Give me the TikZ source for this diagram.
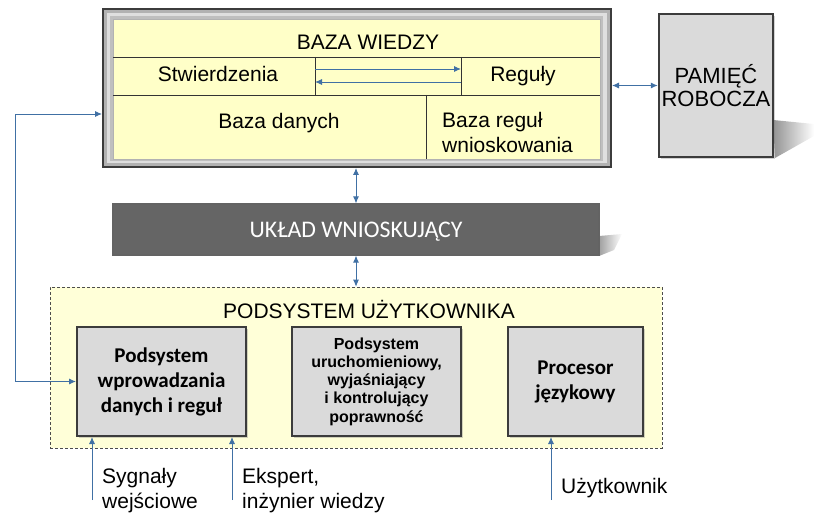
\documentclass[tikz,border=0pt]{standalone}
\usepackage{fontspec}
\setmainfont{Liberation Sans}
\newfontfamily\calibri{Carlito}
\usetikzlibrary{arrows.meta,shadows}

\definecolor{wiedza}{HTML}{FFFFC8}
\definecolor{podsys}{HTML}{FFFFD8}
\definecolor{ramka}{HTML}{3C3C3C}
\definecolor{szary}{HTML}{DADADA}
\definecolor{ciemny}{HTML}{656565}
\definecolor{strzalka}{HTML}{4070A4}

\tikzset{
  graybox/.style={draw=ramka, line width=2pt, fill=szary, inner sep=0pt, align=center,
    drop shadow={shadow xshift=2pt, shadow yshift=-2pt, opacity=.35}},
  link/.style={draw=strzalka, line width=0.9pt, -{Latex[length=7pt,width=6pt]}},
  dlink/.style={link, {Latex[length=7pt,width=6pt]}-{Latex[length=7pt,width=6pt]}},
  txt/.style={font=\fontsize{21}{25}\selectfont, inner sep=0pt},
}

\begin{document}
\begin{tikzpicture}[x=1pt,y=-1pt]
\useasboundingbox (0,0) rectangle (814,513);

% baza wiedzy
\node[draw=ramka, line width=2pt, fill=gray!60, minimum width=508, minimum height=158, inner sep=0pt] (baza) at (357,88) {};
\fill[gray!25] (107,13) rectangle (607,163);
\fill[gray!50] (110,16) rectangle (603,161);
\node[draw=gray!60, fill=wiedza, minimum width=487, minimum height=140, inner sep=0pt] (wnetrze) at (356.5,89) {};
\draw[gray!40!black, line width=0.8pt] (113,57) -- (600,57) (113,95) -- (600,95)
  (315,57) -- (315,95) (461,57) -- (461,95) (426,95) -- (426,159);
\node[txt, anchor=base] (tytul) at (368,50) {BAZA WIEDZY};
\node[txt, anchor=base] (stw) at (218,82) {Stwierdzenia};
\node[txt, anchor=base] (reg) at (523,82) {Reguły};
\node[txt, anchor=base] (bdan) at (279,129) {Baza danych};
\node[txt, anchor=base west, align=left] (breg) at (442,153) {Baza reguł\\wnioskowania};
\coordinate (s1) at (315,69); \coordinate (r1) at (461,69);
\coordinate (s2) at (315,82); \coordinate (r2) at (461,82);
\draw[link] (s1) -- (r1);
\draw[link] (r2) -- (s2);

% pamiec robocza
\shade[left color=gray!85, right color=white] (773,120) -- (814,124) -- (814,136) -- (775,158) -- cycle;
\node[graybox, line width=2.5pt, minimum width=114, minimum height=143, font=\fontsize{22}{23}\selectfont] (pamiec) at (716,85.5) {PAMIĘĆ\\ROBOCZA};
\draw[dlink] (baza.east |- pamiec.center) -- (pamiec.west);

% uklad wnioskujacy
\shade[left color=gray!75, right color=white] (599,236) -- (622,234) -- (614,250) -- (599,256) -- cycle;
\node[draw=ramka!80, line width=1.2pt, fill=ciemny, text=white, minimum width=486, minimum height=51,
  text height=15.3pt, text depth=0pt,
  font=\calibri\fontsize{23.8}{25}\selectfont] (uklad) at (356,229.5) {UKŁAD WNIOSKUJĄCY};
\draw[dlink] (baza.south -| uklad.north) -- (uklad.north);

% podsystem uzytkownika
\node[draw=gray!60!black, line width=0.6pt, dash pattern=on 3pt off 2pt, fill=podsys,
  minimum width=612, minimum height=161, inner sep=0pt] (pods) at (356,367.5) {};
\node[txt, anchor=base] (podtyt) at (369,318) {PODSYSTEM UŻYTKOWNIKA};
\draw[dlink] (uklad.south) -- (uklad.south |- pods.north);

\node[graybox, minimum width=169, minimum height=109, font=\calibri\bfseries\fontsize{21}{25}\selectfont] (wpr) at (161.5,381.5) {Podsystem\\wprowadzania\\danych i reguł};
\node[graybox, minimum width=169, minimum height=109, font=\bfseries\fontsize{16}{18.3}\selectfont] (uruch) at (376.5,381.5) {Podsystem\\uruchomieniowy,\\wyjaśniający\\i kontrolujący\\poprawność};
\node[graybox, minimum width=135, minimum height=109, font=\calibri\bfseries\fontsize{21}{25}\selectfont] (proc) at (575.5,381.5) {Procesor\\językowy};

% petla zwrotna
\coordinate (pet) at (15,114);
\draw[dlink] (baza.west |- pet) -- (pet) |- (wpr.west);

% wejscia
\coordinate (syg) at (92,500);
\coordinate (eks) at (232,500);
\coordinate (uzy) at (551,500);
\draw[link] (syg) -- (syg |- wpr.south);
\draw[link] (eks) -- (eks |- wpr.south);
\draw[link] (uzy) -- (uzy |- proc.south);
\node[txt, anchor=base west, align=left] (sygtxt) at (102,508) {Sygnały\\wejściowe};
\node[txt, anchor=base west, align=left] (ekstxt) at (242,508) {Ekspert,\\inżynier wiedzy};
\node[txt, anchor=base west] (uzytxt) at (561,493) {Użytkownik};
\end{tikzpicture}
\end{document}
